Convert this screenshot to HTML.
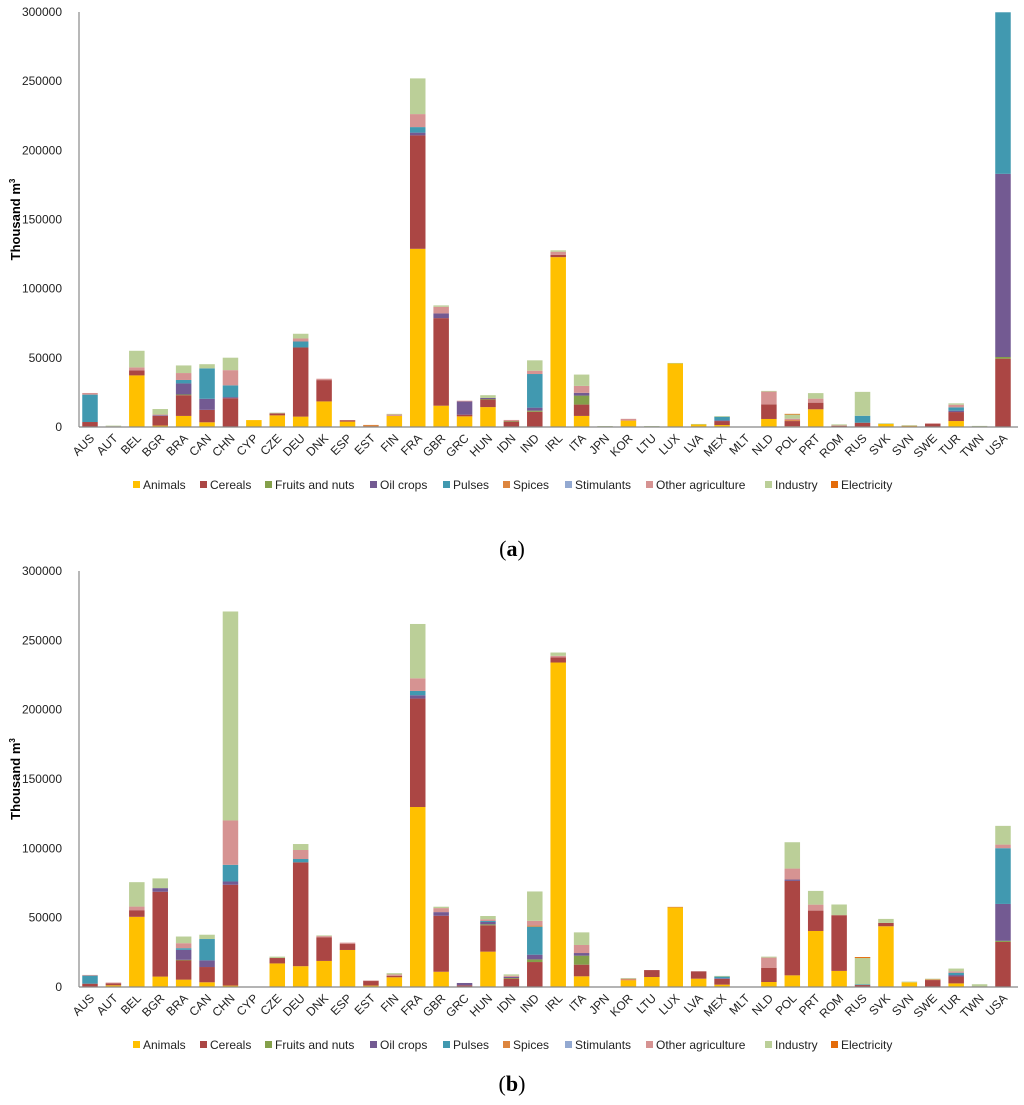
<!DOCTYPE html>
<html><head><meta charset="utf-8"><style>
html,body{margin:0;padding:0;background:#fff;}
svg{display:block;font-family:"Liberation Sans",sans-serif;}
</style></head><body>
<svg id="svg" width="1024" height="1105" viewBox="0 0 1024 1105" xmlns="http://www.w3.org/2000/svg">
<text x="512" y="556" text-anchor="middle" font-family="Liberation Serif,serif" font-size="22">(<tspan font-weight="bold">a</tspan>)</text>
<text x="512" y="1091" text-anchor="middle" font-family="Liberation Serif,serif" font-size="22">(<tspan font-weight="bold">b</tspan>)</text>
</svg>
<script>
const cats=["AUS","AUT","BEL","BGR","BRA","CAN","CHN","CYP","CZE","DEU","DNK","ESP","EST","FIN","FRA","GBR","GRC","HUN","IDN","IND","IRL","ITA","JPN","KOR","LTU","LUX","LVA","MEX","MLT","NLD","POL","PRT","ROM","RUS","SVK","SVN","SWE","TUR","TWN","USA"];
const seriesNames=["Animals","Cereals","Fruits and nuts","Oil crops","Pulses","Spices","Stimulants","Other agriculture","Industry","Electricity"];
const yTicks=[0,50000,100000,150000,200000,250000,300000];
// Panel (a) values, thousand m3 (x1000)
const aAnimals=[0,0,37.3,1,8,3.4,0.3,5,8.4,7.5,18.5,3.9,0.3,8,128.8,15.4,7.7,14.4,0,0,122.8,8,0,4.6,0,46,1.9,1.4,0,5.8,0.5,12.8,0,0,2.2,0.7,0,4.3,0,0];
const aCereals=[3.6,0,3.6,7,15,9,20.5,0,1.5,50,15.4,1,0,0,82,63.3,1.2,5.5,3.9,11,1.7,8.2,0,0,0,0,0,2.9,0,10.6,3.8,4.8,0.8,3.1,0,0,2.4,6.5,0,49.4];
const aFruits=[0,0,0,0,0.5,0,0,0,0,0,0,0,0,0,0,0,0,0.3,0.4,0.8,0,6.5,0,0,0,0,0,0,0,0,0,0,0,0,0,0,0,0,0,1.2];
const aOil=[0,0,0,0.5,8,8,0.8,0,0,0,0,0,0,0,2,3.4,9.6,0.8,0,2.2,0,2,0,0,0,0,0,0.5,0,0,0,0,0,0,0,0,0,1,0,132.4];
const aPulses=[19.8,0,0,0,2.5,22,8.5,0,0,4.3,0,0,0,0,4,0,0,0,0,24.3,0,0,0,0,0,0,0,2.6,0,0,0,0,0,5,0,0,0,2.4,0,116.8];
const aSpices=[0,0,0,0,0,0,0,0,0,0,0,0,1.2,0,0,0,0,0,0,0,0,0,0,0.3,0,0,0,0,0,0,0.7,0,0,0,0,0.3,0,0,0,0];
const aStim=[0,0,0,0,0,0,0,0,0,0,0,0,0,0,0,0,0,0,0,0,0,0,0,0,0,0,0,0,0,0,0,0,0,0,0,0,0,0,0,0];
const aOther=[1.2,0.5,2.2,0.5,5,0,11,0,0,2.2,1,0,0,1,9.4,4.8,0.5,0,0.8,2.4,2.2,5,0,1,0,0,0,0,0,9.2,1,2.9,0.3,0,0,0,0.3,1.9,0,0];
const aIndustry=[0,0.5,12,4,5.5,3,9,0,0.5,3.4,0,0,0,0.5,25.8,1,0,2,0,7.5,1,8.2,0.7,0,0.7,0.3,0.3,0.5,0.3,0.5,3,4,0.8,17.3,0.5,0.3,0,1,0.8,0];
const aElec=[0,0,0,0,0,0,0,0,0,0,0,0,0,0,0,0,0,0,0,0,0,0,0,0,0,0,0,0,0,0,0.5,0,0,0,0,0,0,0,0,0];
// Panel (b)
const bAnimals=[0,1.2,50.6,7.5,5.3,3.4,1,0.3,17,15,18.8,26.7,1,7,129.8,11,0,25.5,0,0,234,7.7,0,4.8,7.2,57.3,6,1.7,0,3.6,8.4,40.4,11.6,0,43.8,3.4,0,2.6,0,0];
const bCereals=[2.4,1.5,4.8,61.2,14,11,72.7,0,3.9,74.9,16.9,4.3,3.4,1,78.2,40.4,1.2,19,6,18,3.6,8.4,0,0,5,0,5.3,4.1,0,10.1,68.1,14.7,40.2,1.4,2.4,0,5,5,0.3,32.5];
const bFruits=[0,0,0,0,0.3,0,0,0,0,0,0,0,0,0,0,0,0,0.7,0.5,1.9,0,6.5,0,0,0,0,0,0,0,0,0,0,0,0,0,0,0,0,0,0.8];
const bOil=[0,0,0,2.6,7.2,4.8,2.4,0,0,0,0,0,0,0,2.4,2.6,1.7,1.7,0.8,3.4,0,1.9,0,0,0,0,0,0.5,0,0,1,0,0,0,0,0,0,1,0,26.6];
const bPulses=[5.8,0,0,0,1.2,15.4,12,0,0,2.4,0,0,0,0,3.1,0,0,0.7,0,20.2,0,0,0,0,0,0,0,1.2,0,0,0,0,0,0.5,0,0,0,1.7,0,40.2];
const bSpices=[0,0,0,0,0,0,0,0,0,0,0,0,0,0,0,0,0,0,0,0.8,0,0,0,0.6,0,0.5,0,0,0,0,0,0,0,0,0,0,0.5,0,0,0];
const bStim=[0,0,0,0,0,0,0,0,0,0,0,0,0,0,0,0,0,0,0,0,0,0,0,0,0,0,0,0,0,0,0,0,0,0,0,0,0,0,0,0];
const bOther=[0.5,0.5,2.6,0,3.6,0,32,0,0,6.5,1,1,0.3,1,9.1,2.9,0,1.2,0.8,3.4,1.2,5.8,0,0.6,0,0,0,0,0,7.5,7.9,4.3,0,0,0,0,0,1,0,2.6];
const bIndustry=[0,0,17.6,7,4.8,3.1,150.7,0,1,4.3,0.5,0,0,1,39.2,1,0,2.4,1,21.2,2.4,9.1,0.3,0.5,0,0,0,0.5,0.3,0.7,19,9.9,7.7,19,2.9,0.5,0.5,2,1.7,13.5];
const bElec=[0,0,0,0,0,0,0,0,0,0,0,0,0,0,0,0,0,0,0,0,0,0,0,0,0,0,0,0,0,0,0,0,0,0.7,0,0,0,0,0,0];

const colors=["#FFC000","#AB4644","#84A04A","#735A92","#4199B0","#DD853E","#93A9D1","#D69392","#BBCF98","#E46C0A"];
const NS="http://www.w3.org/2000/svg";
const svg=document.getElementById("svg");
function mk(tag,attrs,parent){const e=document.createElementNS(NS,tag);for(const k in attrs)e.setAttribute(k,attrs[k]);(parent||svg).appendChild(e);return e;}

function drawChart(id,y0,ytop,legendY,series){
  const g=mk("g",{});
  
  
  const x0=79, xFirst=90, step=23.41, bw=15.5;
  const yScale=v=>y0-(v/300000)*(y0-ytop);
  const xScale=i=>xFirst+i*step;
  // y ticks
  yTicks.forEach(t=>{
    const tx=mk("text",{x:62,y:yScale(t)+4,"text-anchor":"end","font-size":12,fill:"#222"},g);
    tx.textContent=t;
    
    
  });
  const yt=mk("text",{x:0,y:0,"font-size":13,"font-weight":"bold",fill:"#000",transform:`translate(20,${(y0+ytop)/2}) rotate(-90)`,"text-anchor":"middle"},g);
  yt.innerHTML='Thousand  m<tspan font-size="8" dy="-5">3</tspan>';
  
  
  // bars
  cats.forEach((c,i)=>{
    let acc=0;
    series.forEach((arr,s)=>{
      const v=arr[i]*1000;
      if(v<=0)return;
      const yA=yScale(acc), yB=yScale(acc+v);
      const r=mk("rect",{x:xScale(i)-bw/2,y:yB,width:bw,height:Math.max(yA-yB,0.6),fill:colors[s]},g);
      
      
      acc+=v;
    });
    const lb=mk("text",{x:0,y:0,"font-size":12,fill:"#222","text-anchor":"end",transform:`translate(${xScale(i)+5},${y0+12}) rotate(-45)`},g);
    lb.textContent=c;
    
    
  });
  const ax=mk("line",{x1:x0,y1:ytop,x2:x0,y2:y0,stroke:"#888","stroke-width":1.2},g);
  
  
  const bx=mk("line",{x1:x0,y1:y0,x2:1018,y2:y0,stroke:"#888","stroke-width":1.2},g);
  
  
  // legend
  const lx=[133,200,265,370,443,503,565,646,765,831];
  seriesNames.forEach((n,s)=>{
    const r=mk("rect",{x:lx[s],y:legendY-5,width:7,height:7,fill:colors[s]},g);
    
    
    const t=mk("text",{x:lx[s]+10,y:legendY+3,"font-size":12,fill:"#222"},g);
    t.textContent=n;
    
    
  });
}
drawChart("a",427,12,486,[aAnimals,aCereals,aFruits,aOil,aPulses,aSpices,aStim,aOther,aIndustry,aElec]);
drawChart("b",987,571,1046,[bAnimals,bCereals,bFruits,bOil,bPulses,bSpices,bStim,bOther,bIndustry,bElec]);
</script>
</body></html>
